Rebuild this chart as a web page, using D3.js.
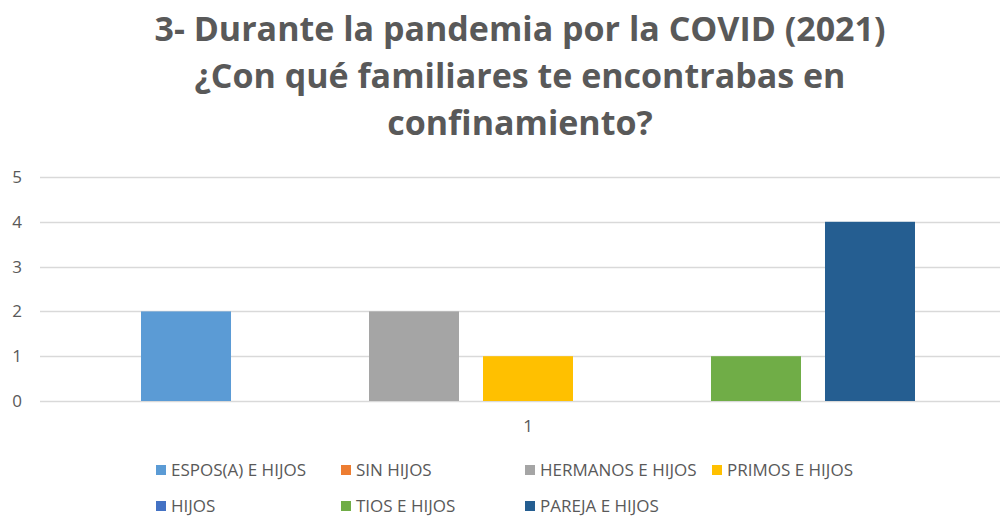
<!DOCTYPE html>
<html>
<head>
<meta charset="utf-8">
<script src="https://cdn.jsdelivr.net/npm/d3@7"></script>
<style>
  body { margin: 0; background: #fff; }
  svg { display: block; }
</style>
</head>
<body>
<div id="chart"></div>
<script>
var titleLines = ["3- Durante la pandemia por la COVID (2021)", "¿Con qué familiares te encontrabas en", "confinamiento?"];
var categories = ["1"];
var seriesNames = ["ESPOS(A) E HIJOS", "SIN HIJOS", "HERMANOS E HIJOS", "PRIMOS E HIJOS", "HIJOS", "TIOS E HIJOS", "PAREJA E HIJOS"];
var seriesValues = [2, 0, 2, 1, 0, 1, 4];
var seriesColors = ["#5B9BD5", "#ED7D31", "#A5A5A5", "#FFC000", "#4472C4", "#70AD47", "#255E91"];
var yTicks = [0, 1, 2, 3, 4, 5];

var width = 1000, height = 519;
var margin = {top: 177, right: -16, bottom: 118, left: 40};
var innerW = width - margin.left - margin.right,
    innerH = height - margin.top - margin.bottom;

var font = "'Open Sans', 'Liberation Sans', sans-serif";

var svg = d3.select("#chart").append("svg")
    .attr("width", width)
    .attr("height", height);

// Title
svg.append("g").selectAll("text")
    .data(titleLines)
  .enter().append("text")
    .attr("x", 520)
    .attr("y", function(d, i) { return 41 + i * 47; })
    .attr("text-anchor", "middle")
    .style("font-family", font)
    .style("font-weight", "bold")
    .style("font-size", "34px")
    .style("fill", "#595959")
    .text(function(d) { return d; });

var g = svg.append("g")
    .attr("transform", "translate(" + margin.left + "," + margin.top + ")");

var x0 = d3.scaleBand().domain(categories).range([0, innerW]).paddingInner(0).paddingOuter(0.1305);
var x1 = d3.scaleBand().domain(seriesNames).range([0, x0.bandwidth()]).paddingInner(0.2105).paddingOuter(0);
var y = d3.scaleLinear().domain([0, 5]).range([innerH, 0]);

// gridlines
g.selectAll("line.grid")
    .data(yTicks)
  .enter().append("line")
    .attr("class", "grid")
    .attr("x1", 0)
    .attr("x2", innerW)
    .attr("y1", function(d) { return Math.round(y(d)) + 0.5; })
    .attr("y2", function(d) { return Math.round(y(d)) + 0.5; })
    .attr("stroke", "#D9D9D9")
    .attr("stroke-width", 1.5);

// y axis labels
var yAxis = d3.axisLeft(y).tickValues(yTicks).tickFormat(d3.format("d")).tickSize(0).tickPadding(18);
g.append("g").call(yAxis)
    .call(function(s) { s.select(".domain").remove(); })
    .selectAll("text")
    .style("font-family", font)
    .style("font-size", "17px")
    .style("fill", "#595959");

// bars
var groups = g.selectAll("g.cat")
    .data(categories)
  .enter().append("g")
    .attr("class", "cat")
    .attr("transform", function(d) { return "translate(" + x0(d) + ",0)"; });

groups.selectAll("rect")
    .data(seriesNames.map(function(n, i) { return {name: n, value: seriesValues[i], color: seriesColors[i]}; }))
  .enter().append("rect")
    .attr("x", function(d) { return x1(d.name); })
    .attr("y", function(d) { return y(d.value); })
    .attr("width", x1.bandwidth())
    .attr("height", function(d) { return y(0) - y(d.value); })
    .attr("fill", function(d) { return d.color; });

// x axis labels
var xAxis = d3.axisBottom(x0).tickSize(0).tickPadding(19);
g.append("g")
    .attr("transform", "translate(0," + innerH + ")")
    .call(xAxis)
    .call(function(s) { s.select(".domain").remove(); })
    .selectAll("text")
    .style("font-family", font)
    .style("font-size", "17px")
    .style("fill", "#595959");

// legend
var legendCols = [156, 341, 525, 712];
var legendRows = [470, 506];
var legend = svg.append("g").selectAll("g")
    .data(seriesNames)
  .enter().append("g")
    .attr("transform", function(d, i) {
      var row = i < 4 ? 0 : 1;
      var col = i < 4 ? i : i - 4;
      return "translate(" + legendCols[col] + "," + legendRows[row] + ")";
    });

legend.append("rect")
    .attr("x", 0)
    .attr("y", -5)
    .attr("width", 10)
    .attr("height", 10)
    .attr("fill", function(d, i) { return seriesColors[i]; });

legend.append("text")
    .attr("x", 15)
    .attr("y", 6)
    .style("font-family", font)
    .style("font-size", "17px")
    .style("fill", "#595959")
    .text(function(d) { return d; });
</script>
</body>
</html>
